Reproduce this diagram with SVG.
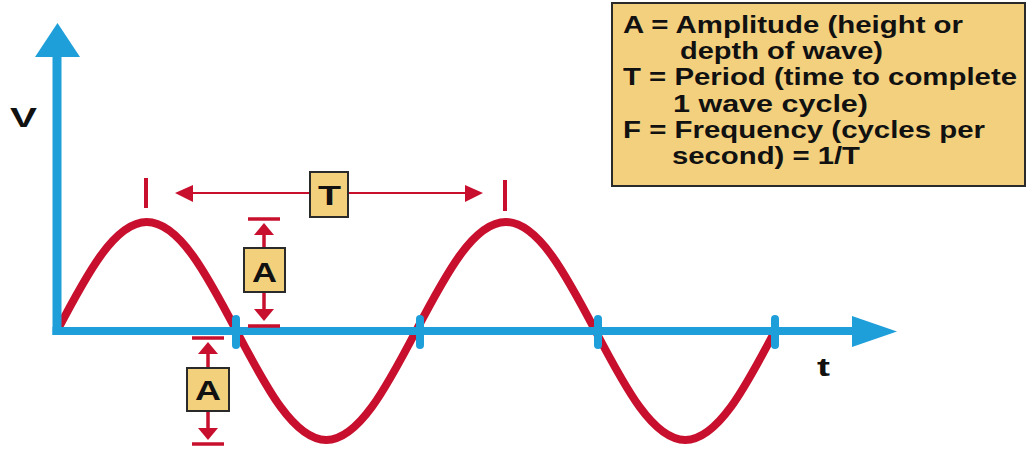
<svg xmlns="http://www.w3.org/2000/svg" width="1027" height="452" viewBox="0 0 1027 452">
<style>
.ax{fill:#1e9fda}
.wave{fill:none;stroke:#c8102e;stroke-width:8}
.dim{stroke:#c8102e;fill:none}
.ah{fill:#c8102e}
.box{fill:#f3d07c;stroke:#2a2a2a;stroke-width:2}
.lbl{font-family:"Liberation Sans",Arial,sans-serif;font-weight:bold;fill:#111}
.leg{font-family:"Liberation Sans",Arial,sans-serif;font-weight:bold;font-size:23px;fill:#111}
</style>
<rect width="1027" height="452" fill="#fff"/>
<g id="wave">
<path class="wave" d="M57,331 C87,273.8 114.7,222 146.75,222 C178.8,222 206.5,273.8 236.5,331 C266.5,388.2 294.2,440 326.25,440 C358.3,440 386,388.2 416,331 C446,273.8 473.7,222 505.75,222 C537.8,222 565.5,273.8 595.5,331 C625.5,388.2 653.2,440 685.25,440 C717.3,440 745,388.2 775,331"/>
</g>
<g id="axes">
<rect class="ax" x="52.5" y="55" width="9" height="280"/>
<polygon class="ax" points="35,57 80,57 57.5,23"/>
<rect class="ax" x="52.5" y="327" width="801" height="8"/>
<polygon class="ax" points="852,316 852,347 897,331.5"/>
<rect class="ax" x="232" y="315" width="8" height="34" rx="4"/>
<rect class="ax" x="416" y="315" width="8" height="34" rx="4"/>
<rect class="ax" x="594" y="315" width="8" height="34" rx="4"/>
<rect class="ax" x="771" y="315" width="8" height="34" rx="4"/>
<text class="lbl" x="10" y="127" font-size="28" textLength="27" lengthAdjust="spacingAndGlyphs">V</text>
<text class="lbl" x="817" y="376" font-size="26" textLength="13" lengthAdjust="spacingAndGlyphs">t</text>
</g>
<g id="connectors">
<line class="dim" x1="146" y1="178" x2="146" y2="208" stroke-width="4"/>
<line class="dim" x1="505" y1="180" x2="505" y2="211" stroke-width="4"/>
<line class="dim" x1="190" y1="193" x2="468" y2="193" stroke-width="2"/>
<polygon class="ah" points="175,193 193,185 193,202"/>
<polygon class="ah" points="483,193 465,185 465,202"/>
<line class="dim" x1="248" y1="219" x2="280" y2="219" stroke-width="3.5"/>
<polygon class="ah" points="264,223 254,235 274,235"/>
<line class="dim" x1="264" y1="234" x2="264" y2="248" stroke-width="3.5"/>
<line class="dim" x1="264" y1="292" x2="264" y2="310" stroke-width="3.5"/>
<polygon class="ah" points="264,321 254,309 274,309"/>
<line class="dim" x1="248" y1="326" x2="280" y2="326" stroke-width="3.5"/>
<line class="dim" x1="192" y1="338" x2="224" y2="338" stroke-width="3.5"/>
<polygon class="ah" points="208,342 198,354 218,354"/>
<line class="dim" x1="208" y1="353" x2="208" y2="368" stroke-width="3.5"/>
<line class="dim" x1="208" y1="411" x2="208" y2="429" stroke-width="3.5"/>
<polygon class="ah" points="208,440 198,428 218,428"/>
<line class="dim" x1="192" y1="444" x2="224" y2="444" stroke-width="3.5"/>
</g>
<g id="T-label">
<rect class="box" x="310" y="172" width="38" height="45"/>
<text class="lbl" x="329.5" y="205" font-size="28" text-anchor="middle" textLength="23" lengthAdjust="spacingAndGlyphs">T</text>
</g>
<g id="A-upper">
<rect class="box" x="244" y="248" width="41" height="44"/>
<text class="lbl" x="264.5" y="282" font-size="27" text-anchor="middle" textLength="25" lengthAdjust="spacingAndGlyphs">A</text>
</g>
<g id="A-lower">
<rect class="box" x="187" y="368" width="42" height="43"/>
<text class="lbl" x="208" y="400" font-size="27" text-anchor="middle" textLength="26" lengthAdjust="spacingAndGlyphs">A</text>
</g>
<g id="legend">
<rect x="612" y="3" width="413" height="183" fill="#f3d07e" stroke="#2a2a2a" stroke-width="2"/>
<text class="leg" x="623" y="33" textLength="340" lengthAdjust="spacingAndGlyphs">A = Amplitude (height or</text>
<text class="leg" x="680" y="59" textLength="203" lengthAdjust="spacingAndGlyphs">depth of wave)</text>
<text class="leg" x="623" y="85" textLength="394" lengthAdjust="spacingAndGlyphs">T = Period (time to complete</text>
<text class="leg" x="673" y="112" textLength="195" lengthAdjust="spacingAndGlyphs">1 wave cycle)</text>
<text class="leg" x="623" y="138" textLength="362" lengthAdjust="spacingAndGlyphs">F = Frequency (cycles per</text>
<text class="leg" x="672" y="164" textLength="188" lengthAdjust="spacingAndGlyphs">second) = 1/T</text>
</g>
</svg>
